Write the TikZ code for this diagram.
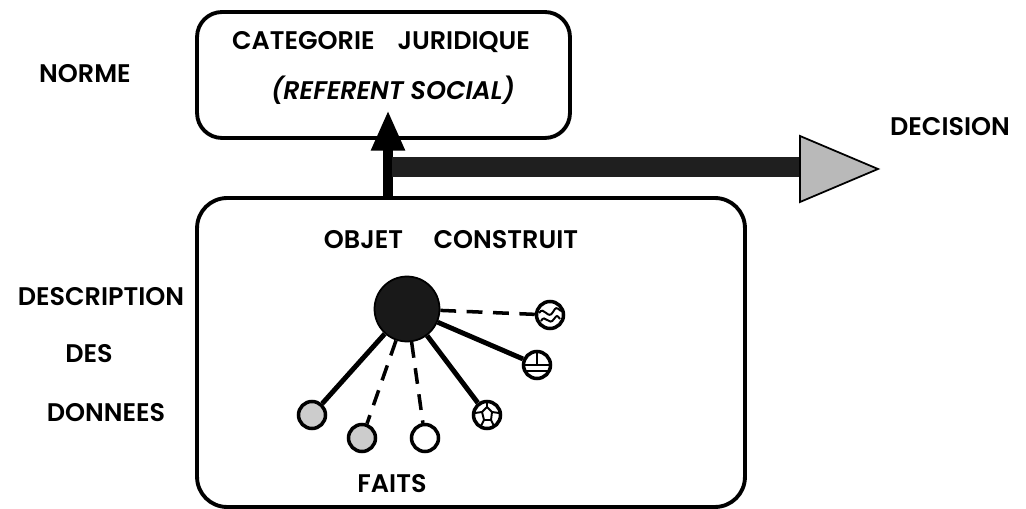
\documentclass[tikz,border=0pt]{standalone}
\usepackage{fontspec}
\setmainfont{Poppins}[BoldFont={Poppins SemiBold}, BoldItalicFont={Poppins SemiBold Italic}]
\usetikzlibrary{calc}
\begin{document}
\begin{tikzpicture}[x=0.02cm,y=-0.02cm,
  lbl/.style={font=\fontsize{14.5}{16}\selectfont\bfseries, inner sep=0pt, anchor=center},
  ilbl/.style={font=\fontsize{14.5}{16}\selectfont\bfseries\itshape, inner sep=0pt, anchor=center},
  framebox/.style={draw, line width=2.2pt, rounded corners=0.5cm, inner sep=0pt},
  fact/.style={circle, draw, line width=2pt, minimum size=0.54cm, inner sep=0pt},
  solidc/.style={line width=2.8pt},
  dashc/.style={line width=2pt, dash pattern=on 9pt off 6pt},
  arrowfill/.style={fill=black, draw=black, line width=0.6pt}
]
\useasboundingbox (0,0) rectangle (1026,509);

% frames
\node[framebox, minimum width=7.46cm, minimum height=2.52cm] (top) at (383.5,75) {};
\node[framebox, rounded corners=0.6cm, minimum width=10.96cm, minimum height=6.18cm] (bot) at (471,352.5) {};

% texts
\node[lbl] (cat) at (381,42) {CATEGORIE\hspace{0.9em}JURIDIQUE};
\node[ilbl] (ref) at (393,90) {(REFERENT SOCIAL)};
\node[lbl] (norme) at (85,74) {NORME};
\node[lbl] (decision) at (950,127) {DECISION};
\node[lbl] (desc) at (101,297) {DESCRIPTION};
\node[lbl] (des) at (89,354) {DES};
\node[lbl] (donnees) at (106,413) {DONNEES};
\node[lbl] (objet) at (451,240) {OBJET\hspace{1.2em}CONSTRUIT};
\node[lbl] (faits) at (392,484) {FAITS};

% vertical arrow (from bottom frame up into top frame)
\coordinate (vbase) at (388,198);
\coordinate (vtip) at (388,113);
\fill[arrowfill] ($(vbase)+(-4.5,0)$) rectangle ($(vtip)+(4.5,37)$);
\fill[arrowfill] ($(vtip)+(-16.5,37)$) -- ($(vtip)+(16.5,37)$) -- (vtip) -- cycle;

% horizontal decision arrow
\coordinate (hstart) at (392,167);
\coordinate (htip) at (878,169);
\fill[black!88] ($(hstart)+(0,-10)$) rectangle (800,177);
\filldraw[fill=gray!55, draw=black, line width=1pt] (800,136) -- (800,202) -- (htip) -- cycle;

% constructed object and facts
\node[circle, fill=black!90, draw=black, line width=1pt, minimum size=1.3cm, inner sep=0pt] (obj) at (407,309) {};
\node[fact, fill=gray!40] (f1) at (312,415) {};
\node[fact, fill=gray!40] (f2) at (362,438) {};
\node[fact, fill=white] (f3) at (425,438) {};
\node[fact, fill=white] (f4) at (487,415) {};
\node[fact, fill=white] (f5) at (537,365) {};
\node[fact, fill=white] (f6) at (550,315) {};

\draw[solidc] (obj) -- (f1);
\draw[dashc] (obj) -- (f2);
\draw[dashc] (obj) -- (f3);
\draw[solidc] (obj) -- (f4);
\draw[solidc] (obj) -- (f5);
\draw[dashc] (obj) -- (f6);

% patterns inside facts
\draw[line width=1.1pt] ([shift={(-11,-2)}]f6.center) .. controls ([shift={(-6,-10)}]f6.center) and ([shift={(-2,6)}]f6.center) .. ([shift={(3,-3)}]f6.center) .. controls ([shift={(6,-8)}]f6.center) .. ([shift={(11,-4)}]f6.center);
\draw[line width=1.1pt] ([shift={(-9,6)}]f6.center) .. controls ([shift={(-5,-2)}]f6.center) and ([shift={(-1,12)}]f6.center) .. ([shift={(4,4)}]f6.center) .. controls ([shift={(7,0)}]f6.center) .. ([shift={(10,4)}]f6.center);

\draw[line width=1.2pt] (f5.west) -- (f5.east);
\draw[line width=1.2pt] (f5.center) -- (f5.north);
\draw[line width=1.2pt] ([shift={(-11,6)}]f5.center) -- ([shift={(11,6)}]f5.center);

\draw[line width=1.1pt] ([shift={(-12,-2)}]f4.center) -- ([shift={(-5,-3)}]f4.center) -- ([shift={(0,-8)}]f4.center) -- ([shift={(5,-3)}]f4.center) -- ([shift={(12,-2)}]f4.center);
\draw[line width=1.1pt] ([shift={(-5,-3)}]f4.center) -- ([shift={(-3,5)}]f4.center) -- ([shift={(4,5)}]f4.center) -- ([shift={(5,-3)}]f4.center);
\draw[line width=1.1pt] ([shift={(-3,5)}]f4.center) -- ([shift={(-6,11)}]f4.center);
\draw[line width=1.1pt] ([shift={(4,5)}]f4.center) -- ([shift={(7,11)}]f4.center);
\draw[line width=1.1pt] ([shift={(0,-8)}]f4.center) -- ([shift={(0,-13)}]f4.center);
\end{tikzpicture}
\end{document}
